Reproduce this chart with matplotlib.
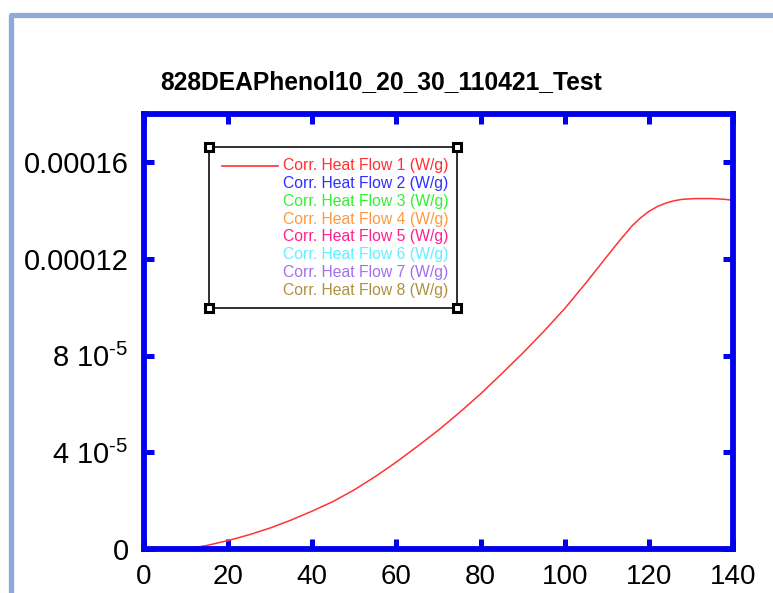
import matplotlib
matplotlib.use("Agg")
import matplotlib.pyplot as plt
from matplotlib.lines import Line2D
from matplotlib.patches import Rectangle
from matplotlib.ticker import FixedLocator, FixedFormatter

plt.rcParams['font.family'] = ['Liberation Sans', 'DejaVu Sans']
plt.rcParams['mathtext.default'] = 'regular'

title = "828DEAPhenol10_20_30_110421_Test"

# curve (x, heat flow W/g)
temp = [9.5, 12, 15, 20, 25, 30, 35, 40, 45, 50, 55, 60, 65, 70, 75, 80, 85,
        90, 95, 100, 105, 110, 113, 116, 118, 120, 122, 124, 126, 128, 131,
        135, 138, 140]
flow = [0.0, 0.06e-5, 0.15e-5, 0.35e-5, 0.59e-5, 0.87e-5, 1.2e-5, 1.57e-5,
        1.97e-5, 2.45e-5, 3.0e-5, 3.6e-5, 4.25e-5, 4.92e-5, 5.65e-5, 6.42e-5,
        7.25e-5, 8.1e-5, 9.0e-5, 9.95e-5, 11.0e-5, 12.1e-5, 12.75e-5,
        13.37e-5, 13.7e-5, 13.97e-5, 14.17e-5, 14.31e-5, 14.41e-5, 14.47e-5,
        14.5e-5, 14.5e-5, 14.47e-5, 14.43e-5]

xticks = [0, 20, 40, 60, 80, 100, 120, 140]
yticks = [0, 4e-5, 8e-5, 12e-5, 16e-5]
ylabels = ["0", "4 10$^{\u20105}$", "8 10$^{\u20105}$", "0.00012", "0.00016"]

legend_labels = ["Corr. Heat Flow %d (W/g)" % i for i in range(1, 9)]
legend_colors = ['#ff3030', '#3030ff', '#30f030', '#ff9a40',
                 '#ff2090', '#60f0ff', '#a070f0', '#b09040']

fig = plt.figure(figsize=(7.73, 5.93), dpi=100)
ax = fig.add_axes([144/773, 44/593, 589/773, 435/593])

ax.plot(temp, flow, color='#ff3333', lw=1.1)

ax.set_xlim(0, 140)
ax.set_ylim(0, 0.00018)
ax.xaxis.set_major_locator(FixedLocator(xticks))
ax.yaxis.set_major_locator(FixedLocator(yticks))
ax.yaxis.set_major_formatter(FixedFormatter(ylabels))
ax.tick_params(which='both', direction='in', top=True, right=True,
               length=7.2, width=3.6, color='#0000ee')
ax.tick_params(axis='y', pad=11, labelsize=21)
ax.tick_params(axis='x', pad=11, labelsize=20)
for s in ax.spines.values():
    s.set_color('#0000ee')
    s.set_linewidth(4.2)

fig.text(381/773, 1 - 82/593, title, ha='center', va='center',
         fontsize=17.7, fontweight='bold')

# legend box, drawn by hand
x0, x1 = (209-144)/589, (457-144)/589
y0, y1 = (549-308)/435, (549-147)/435
ax.add_patch(Rectangle((x0, y0), x1-x0, y1-y0, transform=ax.transAxes,
                       fill=False, ec='#303030', lw=1.4, zorder=5))
ax.plot([x0, x1, x0, x1], [y0, y0, y1, y1], ls='none', marker='s', ms=6,
        mfc='white', mec='black', mew=2.2, transform=ax.transAxes,
        zorder=6, clip_on=False)
for i, (lab, col) in enumerate(zip(legend_labels, legend_colors)):
    yy = (549 - (165.7 + 17.8*i))/435
    ax.text((283-144)/589, yy, lab, color=col, fontsize=11.3,
            va='center', ha='left', transform=ax.transAxes)
ax.add_line(Line2D([(222-144)/589, (278-144)/589], [(549-165.7)/435]*2,
                   color='#ff3030', lw=1.2, transform=ax.transAxes))

# light blue frame of the screenshot
fig.add_artist(Line2D([11/773, 11/773, 1.01], [0, 1 - 14.5/593, 1 - 14.5/593],
                      color='#8eaadb', lw=3.8, transform=fig.transFigure,
                      solid_joinstyle='round'))

fig.savefig("out.png", dpi=100)
